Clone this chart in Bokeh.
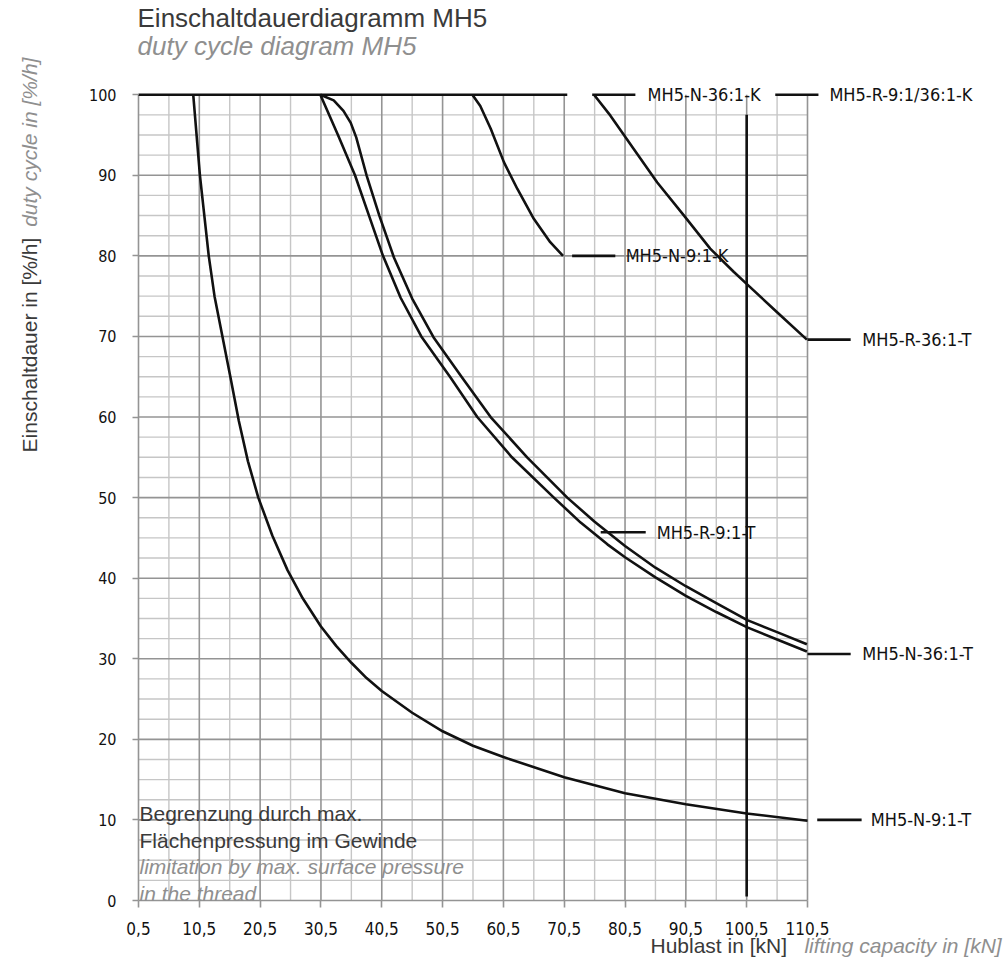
import math
import numpy as np
from bokeh.plotting import figure
from bokeh.models import FixedTicker, Label, ColumnDataSource
from bokeh.core.properties import value
from bokeh.embed import file_html
from bokeh.resources import INLINE

# ---------------- data ----------------
x_ticks = [0.5, 10.5, 20.5, 30.5, 40.5, 50.5, 60.5, 70.5, 80.5, 90.5, 100.5, 110.5]
x_tick_labels = ["0,5", "10,5", "20,5", "30,5", "40,5", "50,5", "60,5", "70,5",
                 "80,5", "90,5", "100,5", "110,5"]
y_ticks = [0, 10, 20, 30, 40, 50, 60, 70, 80, 90, 100]

# common upper limit (100 %/h)
limit_x = [0.5, 71.0]
limit_y = [100, 100]

# MH5-N-9:1-T
n91t_x = [9.5, 10.6, 12.05, 13.0, 14.3, 15.6, 17.0, 18.5, 20.2, 22.5, 25.0, 27.5,
          30.5, 33.0, 35.5, 38.0, 40.5, 45.5, 50.5, 55.5, 60.5, 70.5, 80.5,
          90.5, 100.5, 110.5]
n91t_y = [100, 90, 80, 75, 70, 65, 59.5, 54.5, 50, 45.3, 41.0, 37.5,
          34.0, 31.6, 29.5, 27.6, 26.0, 23.3, 21.0, 19.2, 17.8, 15.3, 13.3,
          11.95, 10.8, 9.9]

# MH5-N-36:1-T
n361t_x = [30.4, 33.3, 36.1, 38.4, 40.7, 43.6, 47.0, 51.8, 56.2, 61.9, 68.8,
           73.2, 77.6, 80.5, 85.5, 90.5, 95.5, 100.6, 105.5, 110.4]
n361t_y = [100, 95, 90, 85, 80, 74.8, 70.0, 64.9, 60, 55, 50,
           46.9, 44.2, 42.6, 40.1, 37.8, 35.8, 33.9, 32.4, 30.9]

# MH5-R-9:1-T
r91t_x = [30.4, 32.6, 34.2, 35.4, 36.3, 38.0, 40.1, 42.5, 45.5, 49.0, 53.7,
          58.4, 64.4, 71.0, 75.5, 80.5, 85.5, 90.5, 95.5, 100.6, 105.5, 110.4]
r91t_y = [100, 99.3, 98.0, 96.5, 94.7, 90, 85, 79.8, 74.7, 69.9, 64.9,
          60, 55, 50, 47.0, 44.0, 41.3, 39.0, 36.9, 34.8, 33.3, 31.8]

# MH5-N-9:1-K
n91k_x = [55.4, 56.7, 58.4, 60.6, 62.8, 65.5, 68.2, 70.3]
n91k_y = [100, 98.6, 95.8, 91.6, 88.3, 84.6, 81.7, 80.0]

# MH5-R-36:1-T / 9:1/36:1-K
r361_x = [75.4, 78.1, 81.9, 85.8, 90.2, 94.5, 98.4, 100.8, 105.5, 110.4]
r361_y = [100, 97.4, 93.3, 89.1, 85.0, 80.9, 78.0, 76.3, 73.0, 69.6]

# thread surface pressure limit
limit_v_x = [100.5, 100.5]
limit_v_y = [0.5, 97.5]

# curve labels
lbl_text = ["MH5-N-36:1-K", "MH5-R-9:1/36:1-K", "MH5-N-9:1-K", "MH5-R-36:1-T",
            "MH5-R-9:1-T", "MH5-N-36:1-T", "MH5-N-9:1-T"]
lbl_y = [100, 100, 80, 69.6, 45.7, 30.6, 10]
lbl_x0 = [75.1, 105.2, 71.8, 110.5, 76.5, 110.5, 112.1]
lbl_x1 = [82.2, 112.3, 78.9, 117.6, 83.9, 117.6, 119.4]
lbl_tx = [84.2, 114.1, 80.6, 119.5, 85.7, 119.5, 120.9]

# ---------------- figure ----------------
# the frame fills the whole page; the axes cross at (0.5, 0)
p = figure(width=1008, height=962, x_range=(-22.19, 143.55), y_range=(-7.694, 111.69),
           output_backend="svg", toolbar_location=None, title=None,
           min_border_left=0, min_border_right=0, min_border_top=0,
           min_border_bottom=0)
p.outline_line_color = None
p.xgrid.visible = False
p.ygrid.visible = False
p.background_fill_color = "white"
p.border_fill_color = "white"

# grid (manual so that it stays within the data area)
minor_col, major_col = "#c6c6c6", "#949494"
gx_minor = [v for v in np.arange(0.5, 111, 5.0) if v not in x_ticks]
gy_minor = [v for v in np.arange(0, 100, 2.5) if v % 10 != 0]
gy_major = [v for v in y_ticks if v < 100]
p.segment(x0=gx_minor, y0=0, x1=gx_minor, y1=100, line_color=minor_col, line_width=1.4)
p.segment(x0=0.5, y0=gy_minor, x1=110.5, y1=gy_minor, line_color=minor_col, line_width=1.4)
p.segment(x0=x_ticks, y0=0, x1=x_ticks, y1=100, line_color=major_col, line_width=1.6)
p.segment(x0=0.5, y0=gy_major, x1=110.5, y1=gy_major, line_color=major_col, line_width=1.6)

# axes
for ax in (p.xaxis[0], p.yaxis[0]):
    ax.axis_line_color = None
    ax.minor_tick_line_color = None
    ax.major_tick_line_color = major_col
    ax.major_tick_line_width = 1.6
    ax.major_tick_in = 0
    ax.major_label_text_font = "DejaVu Sans Condensed"
    ax.major_label_text_color = "#111111"

p.xaxis.fixed_location = 0
p.xaxis.ticker = FixedTicker(ticks=x_ticks)
p.xaxis.major_label_overrides = {t: l for t, l in zip(x_ticks, x_tick_labels)}
p.xaxis.major_tick_out = 7
p.xaxis.major_label_standoff = 14
p.xaxis.major_label_text_font_size = "17px"

p.yaxis.fixed_location = 0.5
p.yaxis.ticker = FixedTicker(ticks=y_ticks)
p.yaxis.major_tick_out = 6
p.yaxis.major_label_standoff = 16
p.yaxis.major_label_text_font_size = "16px"

# curves
lw = 2.6
curve_col = "#111111"
p.line(limit_x, limit_y, line_color=curve_col, line_width=lw)
for xs, ys in [(n91t_x, n91t_y), (n361t_x, n361t_y), (r91t_x, r91t_y),
               (n91k_x, n91k_y), (r361_x, r361_y)]:
    p.line(xs, ys, line_color=curve_col, line_width=lw, line_join="round")
p.line(limit_v_x, limit_v_y, line_color=curve_col, line_width=lw)

# curve labels
src = ColumnDataSource(dict(x0=lbl_x0, x1=lbl_x1, y=lbl_y, tx=lbl_tx, text=lbl_text))
p.segment(x0="x0", y0="y", x1="x1", y1="y", source=src, line_color=curve_col, line_width=lw)
p.text(x="tx", y="y", text="text", source=src, text_font=value("DejaVu Sans Condensed"),
       text_font_size=value("18px"), text_baseline="middle", text_align="left",
       text_color="#111111")

# ---------------- texts ----------------
def lab(text, x, y, size, color, style="normal", angle=0.0, font="Liberation Sans"):
    p.add_layout(Label(x=x, y=y, text=text,
                       text_font=font, text_font_size=size, text_color=color,
                       text_font_style=style, text_baseline="middle",
                       text_align="left", angle=angle))

dark, grey = "#3a3a3a", "#8f8f8f"
lab("Einschaltdauerdiagramm MH5", 0.34, 109.52, "26px", dark)
lab("duty cycle diagram MH5", 0.34, 106.02, "26px", grey, "italic")
lab("Einschaltdauer in [%/h]", -17.4, 55.6, "21px", dark, angle=math.pi / 2)
lab("duty cycle in [%/h]", -17.4, 83.6, "21px", grey, "italic", angle=math.pi / 2)
lab("Hublast in [kN]", 84.68, -5.55, "21px", dark)
lab("lifting capacity in [kN]", 110.0, -5.55, "21px", grey, "italic")
lab("Begrenzung durch max.", 0.66, 10.82, "21px", dark)
lab("Flächenpressung im Gewinde", 0.66, 7.50, "21px", dark)
lab("limitation by max. surface pressure", 0.66, 4.24, "21px", grey, "italic")
lab("in the thread", 0.66, 0.89, "21px", grey, "italic")

open("out.html", "w").write(file_html(p, INLINE))
